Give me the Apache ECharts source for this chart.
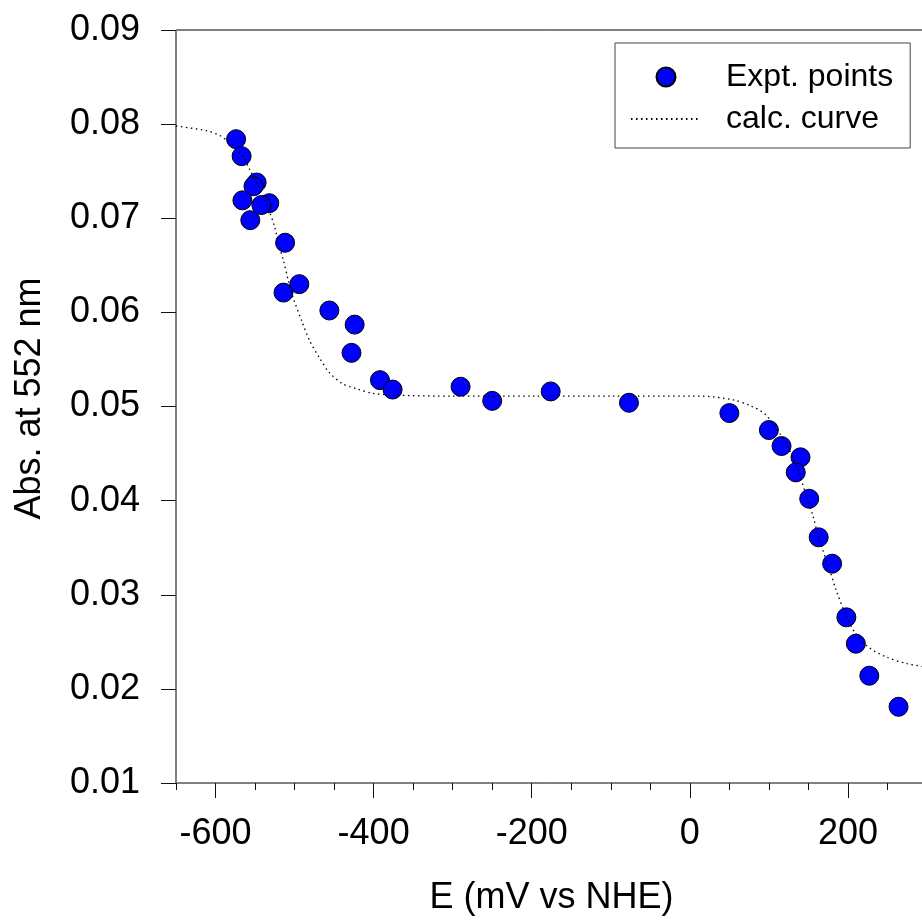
<!DOCTYPE html>
<html>
<head>
<meta charset="utf-8">
<script src="https://cdn.jsdelivr.net/npm/echarts@6/dist/echarts.min.js"></script>
<style>
html,body{margin:0;padding:0;background:#fff;}
#chart{width:922px;height:923px;}
</style>
</head>
<body>
<div id="chart"></div>
<script>
// Experimental points: E (mV vs NHE) and absorbance at 552 nm
const exptE = [-574, -567, -548, -552, -566, -532, -542, -556, -512, -494, -514, -456, -424,
  -428, -392, -376, -290, -250, -176, -77, 50, 100, 116, 140, 134, 151, 163, 180, 198, 210, 227, 264];
const exptAbs = [0.0784, 0.0766, 0.0738, 0.0734, 0.0719, 0.0716, 0.0714, 0.0698, 0.0674, 0.0630, 0.0621, 0.0602, 0.0587,
  0.0557, 0.0528, 0.0518, 0.0521, 0.0506, 0.0516, 0.0504, 0.0493, 0.0475, 0.0458, 0.0446, 0.0430, 0.0402, 0.0361, 0.0333, 0.0276, 0.0248, 0.0214, 0.0181];

// Calculated curve
const calcE = [-650, -611, -595, -586, -575, -565, -557, -544, -533, -525, -519, -514, -508, -502, -491, -481, -468, -456, -439, -422, -401, -370, -300,
  -200, -100, 0, 13, 55, 76, 95, 114, 124, 137, 147, 156, 164, 177, 185, 198, 208, 225, 248, 274, 300];
const calcAbs = [0.0798, 0.0793, 0.0788, 0.0783, 0.0775, 0.0765, 0.0752, 0.0731, 0.0710, 0.0690, 0.0669, 0.0655, 0.0634, 0.0616, 0.0591, 0.0570, 0.0551, 0.0536, 0.0524, 0.0519, 0.0514, 0.0512, 0.0511,
  0.0511, 0.0511, 0.0511, 0.0511, 0.0507, 0.0501, 0.0492, 0.0471, 0.0457, 0.0432, 0.0406, 0.0383, 0.0358, 0.0326, 0.0305, 0.0277, 0.0261, 0.0245, 0.0234, 0.0227, 0.0223];

const xMajorTicks = [-600, -400, -200, 0, 200];
const xMin = -650, xMax = 300;
const yMin = 0.01, yMax = 0.09, yStep = 0.01;

const seriesNames = ['Expt. points', 'calc. curve'];
const xTitle = 'E (mV vs NHE)';
const yTitle = 'Abs. at 552 nm';

const FONT = '"Liberation Sans", Arial, Helvetica, sans-serif';

const chart = echarts.init(document.getElementById('chart'), null, {renderer: 'canvas'});
const option = {
  backgroundColor: '#ffffff',
  animation: false,
  textStyle: {fontFamily: FONT, color: '#000'},
  grid: {
    left: 176, top: 30, width: 751, height: 753,
    show: true, borderColor: '#000', borderWidth: 1, backgroundColor: 'transparent',
    containLabel: false, outerBoundsMode: 'none'
  },
  legend: {
    orient: 'vertical',
    left: 615, top: 43,
    padding: [18, 17, 13, 15],
    itemGap: 10,
    itemWidth: 70, itemHeight: 19,
    borderColor: '#444', borderWidth: 1,
    backgroundColor: '#fff',
    data: [
      {name: seriesNames[0]},
      {name: seriesNames[1], itemStyle: {opacity: 0, color: 'transparent', borderWidth: 0}}
    ],
    textStyle: {fontFamily: FONT, fontSize: 32, color: '#000', padding: [0, 0, 0, 20]}
  },
  xAxis: [{
    type: 'value', position: 'bottom',
    min: xMin, max: xMax,
    axisLine: {show: true, onZero: false, lineStyle: {color: '#808080', width: 1}},
    axisTick: {show: true, inside: false, length: 15, customValues: xMajorTicks, lineStyle: {color: '#111'}},
    axisLabel: {show: true, customValues: xMajorTicks, margin: 33, fontSize: 36, fontFamily: FONT, color: '#000',
      formatter: v => String(v)},
    splitLine: {show: false},
    name: xTitle, nameLocation: 'middle', nameGap: 97,
    nameTextStyle: {fontSize: 36, fontFamily: FONT, color: '#000'}
  }, {
    type: 'value', position: 'bottom',
    min: xMin, max: xMax, interval: 50,
    axisLine: {show: false, onZero: false},
    axisTick: {show: true, inside: false, length: 7, lineStyle: {color: '#111'}},
    axisLabel: {show: false},
    splitLine: {show: false}
  }],
  yAxis: {
    type: 'value', position: 'left',
    min: yMin, max: yMax, interval: yStep,
    axisLine: {show: true, onZero: false, lineStyle: {color: '#808080', width: 1}},
    axisTick: {show: true, inside: false, length: 15, lineStyle: {color: '#111'}},
    axisLabel: {margin: 36, fontSize: 36, fontFamily: FONT, color: '#000', formatter: v => v.toFixed(2)},
    splitLine: {show: false},
    name: yTitle, nameLocation: 'middle', nameGap: 128,
    nameTextStyle: {fontSize: 36, fontFamily: FONT, color: '#000', padding: [0, 0, 0, 16]}
  },
  series: [{
    name: seriesNames[0],
    type: 'scatter',
    xAxisIndex: 0,
    data: exptE.map((e, i) => [e, exptAbs[i]]),
    symbol: 'circle', symbolSize: 19,
    itemStyle: {color: '#0000ff', borderColor: '#000', borderWidth: 1, opacity: 1},
    z: 2
  }, {
    name: seriesNames[1],
    type: 'line',
    xAxisIndex: 0,
    data: calcE.map((e, i) => [e, calcAbs[i]]),
    smooth: 0.3,
    showSymbol: false, symbol: 'none',
    lineStyle: {color: '#000', width: 1.3, type: [1.5, 3.5]},
    itemStyle: {color: '#000'},
    z: 3
  }]
};
chart.setOption(option);
</script>
</body>
</html>
